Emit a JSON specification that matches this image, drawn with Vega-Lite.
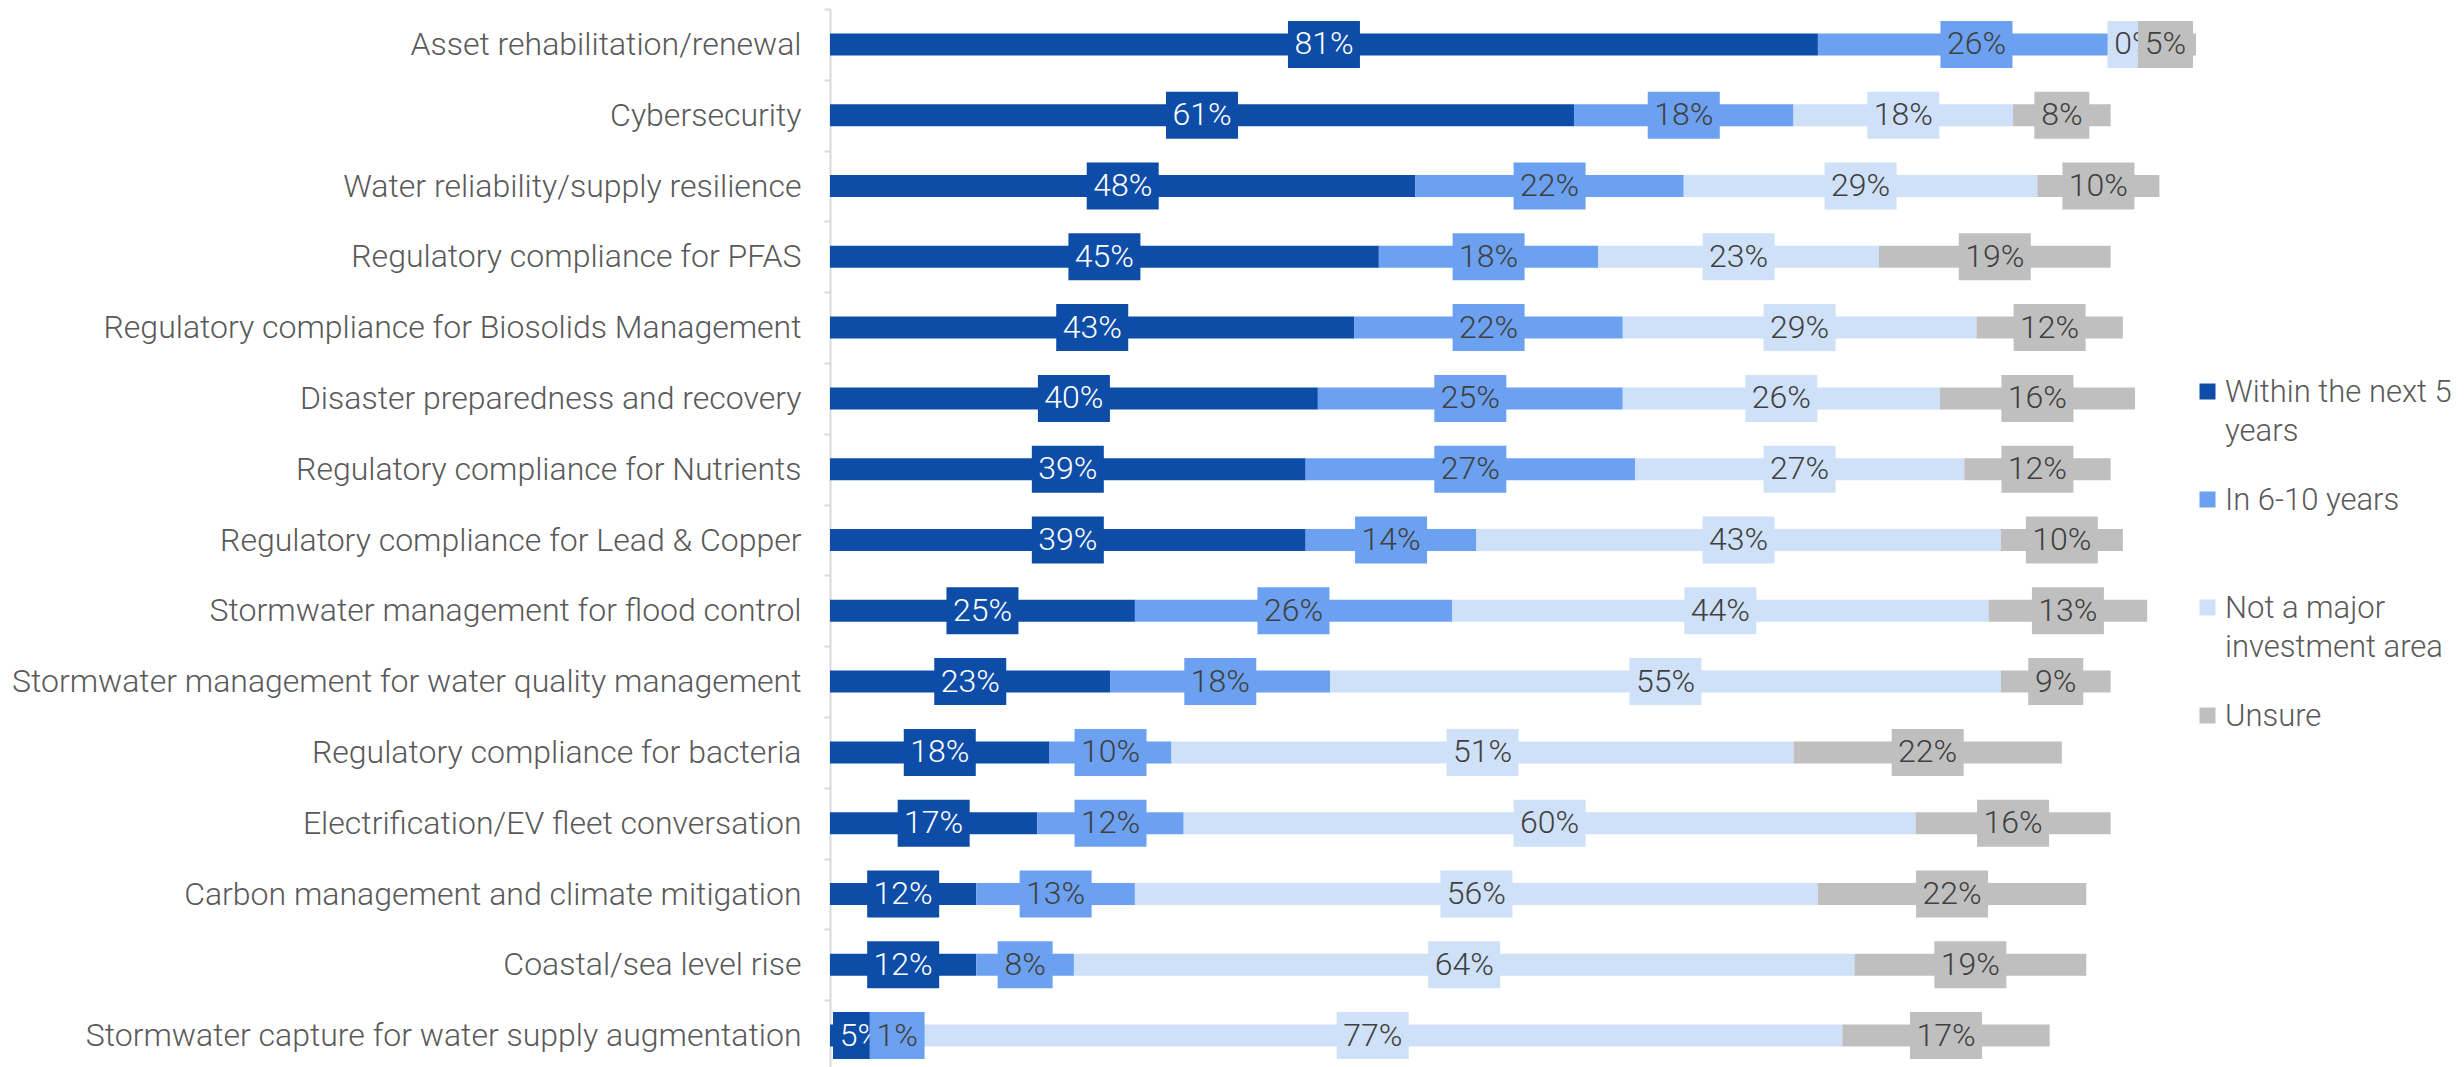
{
  "$schema": "https://vega.github.io/schema/vega-lite/v6.json",
  "autosize": {"type": "none"},
  "width": 1366,
  "height": 1062,
  "padding": {"left": 830, "top": 9, "right": 268, "bottom": 0},
  "background": "white",
  "config": {"view": {"stroke": null}, "font": "Roboto"},
  "data": {
    "values": [
      {"category": "Asset rehabilitation/renewal", "Within the next 5 years": 81, "In 6-10 years": 26, "Not a major investment area": 0, "Unsure": 5},
      {"category": "Cybersecurity", "Within the next 5 years": 61, "In 6-10 years": 18, "Not a major investment area": 18, "Unsure": 8},
      {"category": "Water reliability/supply resilience", "Within the next 5 years": 48, "In 6-10 years": 22, "Not a major investment area": 29, "Unsure": 10},
      {"category": "Regulatory compliance for PFAS", "Within the next 5 years": 45, "In 6-10 years": 18, "Not a major investment area": 23, "Unsure": 19},
      {"category": "Regulatory compliance for Biosolids Management", "Within the next 5 years": 43, "In 6-10 years": 22, "Not a major investment area": 29, "Unsure": 12},
      {"category": "Disaster preparedness and recovery", "Within the next 5 years": 40, "In 6-10 years": 25, "Not a major investment area": 26, "Unsure": 16},
      {"category": "Regulatory compliance for Nutrients", "Within the next 5 years": 39, "In 6-10 years": 27, "Not a major investment area": 27, "Unsure": 12},
      {"category": "Regulatory compliance for Lead & Copper", "Within the next 5 years": 39, "In 6-10 years": 14, "Not a major investment area": 43, "Unsure": 10},
      {"category": "Stormwater management for flood control", "Within the next 5 years": 25, "In 6-10 years": 26, "Not a major investment area": 44, "Unsure": 13},
      {"category": "Stormwater management for water quality management", "Within the next 5 years": 23, "In 6-10 years": 18, "Not a major investment area": 55, "Unsure": 9},
      {"category": "Regulatory compliance for bacteria", "Within the next 5 years": 18, "In 6-10 years": 10, "Not a major investment area": 51, "Unsure": 22},
      {"category": "Electrification/EV fleet conversation", "Within the next 5 years": 17, "In 6-10 years": 12, "Not a major investment area": 60, "Unsure": 16},
      {"category": "Carbon management and climate mitigation", "Within the next 5 years": 12, "In 6-10 years": 13, "Not a major investment area": 56, "Unsure": 22},
      {"category": "Coastal/sea level rise", "Within the next 5 years": 12, "In 6-10 years": 8, "Not a major investment area": 64, "Unsure": 19},
      {"category": "Stormwater capture for water supply augmentation", "Within the next 5 years": 5, "In 6-10 years": 1, "Not a major investment area": 77, "Unsure": 17}
    ]
  },
  "transform": [
    {"fold": ["Within the next 5 years", "In 6-10 years", "Not a major investment area", "Unsure"], "as": ["series", "value"]},
    {"stack": "value", "groupby": ["category"], "as": ["v0", "v1"]},
    {"calculate": "(datum.v0 + datum.v1) / 2", "as": "mid"},
    {"calculate": "datum.value + '%'", "as": "label"}
  ],
  "encoding": {
    "y": {
      "field": "category", "type": "nominal", "sort": null,
      "scale": {"paddingInner": 0, "paddingOuter": 0},
      "axis": {
        "title": null, "domainColor": "#d9d9d9", "domainWidth": 2, "tickColor": "#d9d9d9", "tickSize": 6, "tickWidth": 2,
        "tickBand": "extent", "labelFontSize": 32, "labelFont": "Roboto", "labelFontWeight": 300, "labelColor": "#595959",
        "labelPadding": 23, "labelLimit": 0
      }
    }
  },
  "layer": [
    {
      "mark": {"type": "bar", "size": 22},
      "encoding": {
        "x": {"field": "v0", "type": "quantitative", "scale": {"domain": [0, 112], "nice": false}, "axis": null},
        "x2": {"field": "v1"},
        "color": {
          "field": "series", "type": "nominal",
          "scale": {"domain": ["Within the next 5 years", "In 6-10 years", "Not a major investment area", "Unsure"], "range": ["#0D4DA8", "#6BA1F0", "#CFE0F9", "#BFBFBF"]},
          "legend": {
            "orient": "none", "legendX": 1362, "legendY": 367, "title": null, "padding": 0,
            "symbolType": "square", "symbolSize": 256, "symbolStrokeWidth": 0,
            "labelFontSize": 31, "labelFont": "Roboto", "labelFontWeight": 300, "labelColor": "#595959",
            "labelLimit": 0, "labelOffset": 2, "rowPadding": 37, "gridAlign": "all", "labelBaseline": "top",
            "labelExpr": "datum.label == 'Within the next 5 years' ? ['Within the next 5', 'years'] : datum.label == 'Not a major investment area' ? ['Not a major', 'investment area'] : [datum.label, '']",
            "encode": {"labels": {"update": {"lineHeight": {"value": 39}, "dy": {"value": -14}}}}
          }
        }
      }
    },
    {
      "transform": [{"filter": "datum.series == 'Within the next 5 years'"}],
      "layer": [
        {
          "mark": {"type": "point", "filled": true, "strokeWidth": 0, "opacity": 1},
          "encoding": {
            "x": {"field": "mid", "type": "quantitative"},
            "color": {"field": "series", "type": "nominal"},
            "shape": {"condition": {"test": "datum.value >= 10", "value": "M-1,-0.653H1V0.653H-1Z"}, "value": "M-1,-0.855H1V0.855H-1Z"},
            "size": {"condition": {"test": "datum.value >= 10", "value": 5184}, "value": 3025}
          }
        },
        {
          "mark": {"type": "text", "fontSize": 32, "fontWeight": 300, "font": "Roboto", "color": "#ffffff", "baseline": "middle"},
          "encoding": {"x": {"field": "mid", "type": "quantitative"}, "text": {"field": "label"}}
        }
      ]
    },
    {
      "transform": [{"filter": "datum.series == 'In 6-10 years'"}],
      "layer": [
        {
          "mark": {"type": "point", "filled": true, "strokeWidth": 0, "opacity": 1},
          "encoding": {
            "x": {"field": "mid", "type": "quantitative"},
            "color": {"field": "series", "type": "nominal"},
            "shape": {"condition": {"test": "datum.value >= 10", "value": "M-1,-0.653H1V0.653H-1Z"}, "value": "M-1,-0.855H1V0.855H-1Z"},
            "size": {"condition": {"test": "datum.value >= 10", "value": 5184}, "value": 3025}
          }
        },
        {
          "mark": {"type": "text", "fontSize": 32, "fontWeight": 300, "font": "Roboto", "color": "#404040", "baseline": "middle"},
          "encoding": {"x": {"field": "mid", "type": "quantitative"}, "text": {"field": "label"}}
        }
      ]
    },
    {
      "transform": [{"filter": "datum.series == 'Not a major investment area'"}],
      "layer": [
        {
          "mark": {"type": "point", "filled": true, "strokeWidth": 0, "opacity": 1},
          "encoding": {
            "x": {"field": "mid", "type": "quantitative"},
            "color": {"field": "series", "type": "nominal"},
            "shape": {"condition": {"test": "datum.value >= 10", "value": "M-1,-0.653H1V0.653H-1Z"}, "value": "M-1,-0.855H1V0.855H-1Z"},
            "size": {"condition": {"test": "datum.value >= 10", "value": 5184}, "value": 3025}
          }
        },
        {
          "mark": {"type": "text", "fontSize": 32, "fontWeight": 300, "font": "Roboto", "color": "#404040", "baseline": "middle"},
          "encoding": {"x": {"field": "mid", "type": "quantitative"}, "text": {"field": "label"}}
        }
      ]
    },
    {
      "transform": [{"filter": "datum.series == 'Unsure'"}],
      "layer": [
        {
          "mark": {"type": "point", "filled": true, "strokeWidth": 0, "opacity": 1},
          "encoding": {
            "x": {"field": "mid", "type": "quantitative"},
            "color": {"field": "series", "type": "nominal"},
            "shape": {"condition": {"test": "datum.value >= 10", "value": "M-1,-0.653H1V0.653H-1Z"}, "value": "M-1,-0.855H1V0.855H-1Z"},
            "size": {"condition": {"test": "datum.value >= 10", "value": 5184}, "value": 3025}
          }
        },
        {
          "mark": {"type": "text", "fontSize": 32, "fontWeight": 300, "font": "Roboto", "color": "#404040", "baseline": "middle"},
          "encoding": {"x": {"field": "mid", "type": "quantitative"}, "text": {"field": "label"}}
        }
      ]
    }
  ]
}
